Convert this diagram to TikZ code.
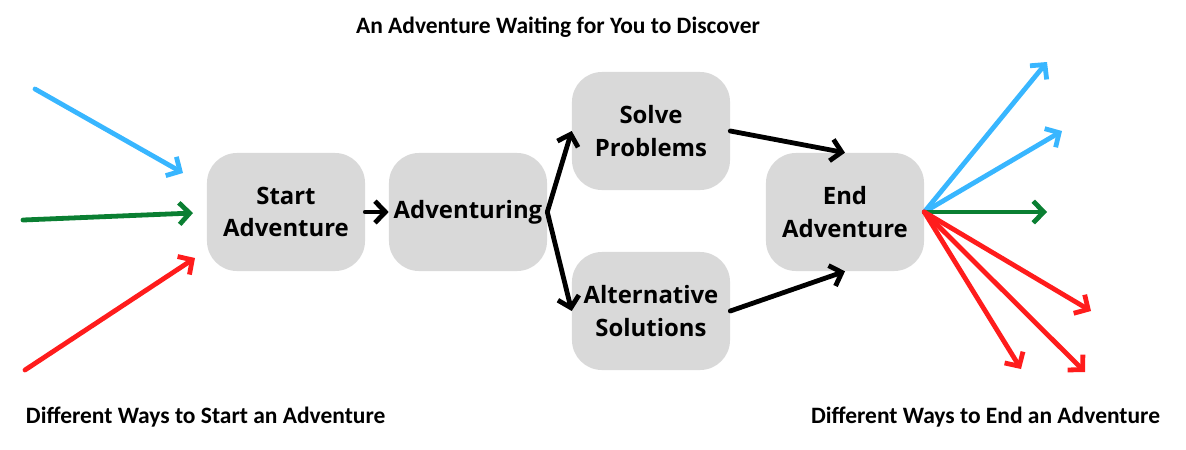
\documentclass[tikz,border=0pt]{standalone}
\usepackage{fontspec}
\setmainfont{Open Sans}
\newfontfamily\labelfont{Carlito}
\usetikzlibrary{arrows.meta}
\definecolor{boxgray}{HTML}{D9D9D9}
\definecolor{skyblue}{HTML}{38B6FF}
\definecolor{leafgreen}{HTML}{0A7F32}
\definecolor{brightred}{HTML}{FF1C1C}
\begin{document}
\begin{tikzpicture}[x=0.025cm,y=-0.025cm,
  stepbox/.style={fill=boxgray,rounded corners=0.75cm,minimum width=3.95cm,minimum height=2.95cm,
    align=center,font=\bfseries\fontsize{17}{23}\selectfont},
  flow/.style={line width=0.12cm,line cap=round,line join=round,-{Straight Barb[length=2.6mm,width=5.4mm]}},
  caption/.style={font=\labelfont\bfseries\fontsize{16.7}{20}\selectfont}]
\useasboundingbox (0,0) rectangle (1186,449);

\node[stepbox] (start) at (286,212) {Start\\Adventure};
\node[stepbox] (adv) at (468,212) {Adventuring};
\node[stepbox] (solve) at (651,131) {Solve\\Problems};
\node[stepbox] (alt) at (651,311) {Alternative\\Solutions};
\node[stepbox] (end) at (845,212) {End\\Adventure};

\node[caption] (title) at (558,27) {An Adventure Waiting for You to Discover};
\node[caption,anchor=west] (waysin) at (21,417) {Different Ways to Start an Adventure};
\node[caption,anchor=east] (waysout) at (1165,417) {Different Ways to End an Adventure};

% ways in
\coordinate (in1) at (35,89);
\coordinate (in1e) at (183,173);
\coordinate (in2) at (23,220);
\coordinate (in2e) at (193,213);
\coordinate (in3) at (25,370);
\coordinate (in3e) at (195,258);
\draw[flow,skyblue] (in1)--(in1e);
\draw[flow,leafgreen] (in2)--(in2e);
\draw[flow,brightred] (in3)--(in3e);

% main path
\draw[flow] (start)--(adv);
\draw[flow] (adv.east)--(solve.west);
\draw[flow] (adv.east)--(alt.west);
\draw[flow] (solve.east)--(end.north);
\draw[flow] (alt.east)--(end.south);

% ways out
\coordinate (out1) at (1047,62);
\coordinate (out2) at (1062,131);
\coordinate (out3) at (1047,212);
\coordinate (out4) at (1091,311);
\coordinate (out5) at (1085,372);
\coordinate (out6) at (1021,369);
\draw[flow,skyblue] (end.east)--(out1);
\draw[flow,skyblue] (end.east)--(out2);
\draw[flow,leafgreen] (end.east)--(out3);
\draw[flow,brightred] (end.east)--(out4);
\draw[flow,brightred] (end.east)--(out5);
\draw[flow,brightred] (end.east)--(out6);
\end{tikzpicture}
\end{document}
